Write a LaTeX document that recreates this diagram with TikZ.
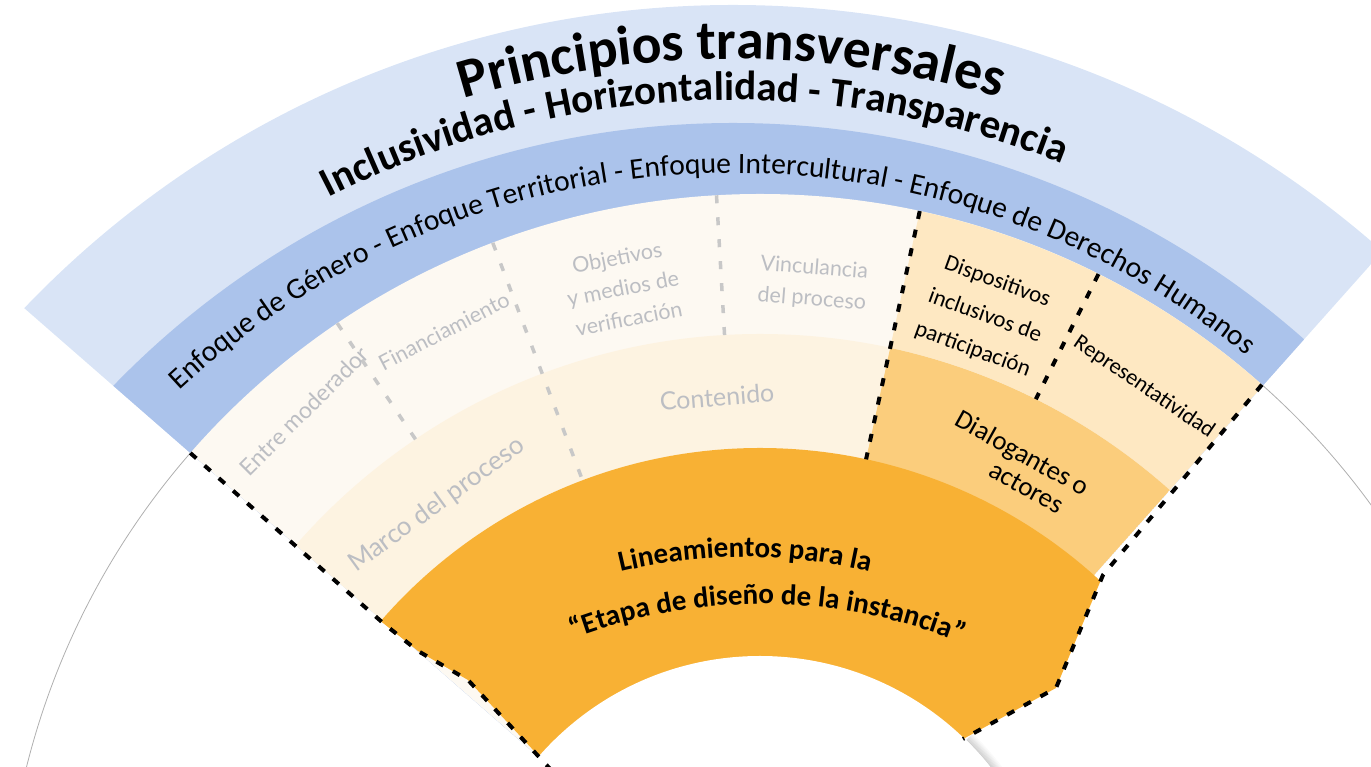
\documentclass[tikz,border=0pt]{standalone}
\usepackage{fontspec}
\setmainfont{Carlito}
\newfontfamily\latofont{Lato}
\usetikzlibrary{decorations.text}
\definecolor{lblue}{RGB}{217,228,246}
\definecolor{mblue}{RGB}{171,195,235}
\definecolor{creamA}{RGB}{253,249,242}
\definecolor{creamB}{RGB}{253,243,225}
\definecolor{peach}{RGB}{254,232,194}
\definecolor{morange}{RGB}{251,205,124}
\definecolor{dorange}{RGB}{248,177,52}
\definecolor{gtext}{RGB}{188,190,195}
\definecolor{gline}{RGB}{200,200,200}
\definecolor{thinline}{RGB}{175,175,175}
\tikzset{
  bdash/.style={line width=4pt, dash pattern=on 8pt off 11pt, black},
  gdash/.style={line width=3.5pt, dash pattern=on 8pt off 14pt, gline},
  gtxt/.style={font=\latofont\fontsize{21.5}{31}\selectfont, text=gtext, align=center, inner sep=0pt},
  btxt/.style={font=\fontsize{23}{36}\selectfont, text=black, align=center, inner sep=0pt},
  arctext/.style={decorate, decoration={text along path, text align=center, text={#1}}},
}
\begin{document}
\begin{tikzpicture}[x=1pt,y=1pt]
\useasboundingbox (0,0) rectangle (1371,767);
\clip (0,0) rectangle (1371,767);
\coordinate (c1) at (733,-218);
\coordinate (c2) at (760,-183);

% ---- fan bands
\begin{scope}
  \clip (c2) -- +(48.3:1400) -- +(93.6:1400) -- +(138.9:1400) -- cycle;
  \fill[lblue] (c1) circle[radius=980];
  \fill[mblue] (c1) circle[radius=862];
  \fill[creamA] (c2) circle[radius=756];
  \fill[peach] (c2) -- ++(48.3:756) arc[start angle=48.3, end angle=77.8, radius=756] -- cycle;
  \fill[creamB, even odd rule] (c2) circle[radius=616] (c2) circle[radius=502];
  \fill[morange] (c2) -- ++(48.3:616) arc[start angle=48.3, end angle=77.8, radius=616] -- cycle;
\end{scope}

% ---- shadow of inner circle
\begin{scope}
  \clip (c2) -- +(20:400) -- +(45.5:400) -- cycle;
  \foreach \i in {0,...,8} {
    \pgfmathtruncatemacro\sh{18-2*\i}
    \draw[black!\sh, line width=1.2pt] (c2) ++(20:{295+\i}) arc[start angle=20, end angle=46, radius={295+\i}];
  }
\end{scope}

% ---- orange band
\begin{scope}
  \clip (232,277) -- (383,144) -- (418,116) -- (468,87) -- (548,1) -- (760,-183)
        -- (965,29) -- (1056,79) -- (1103,192) -- (1234,332) -- (760,567) -- cycle;
  \fill[dorange] (c2) circle[radius=502];
\end{scope}
\fill[white] (c2) circle[radius=294];

% ---- thin outer circle outside the fan
\draw[thinline, line width=0.8pt] (c2) ++(138.9:756) arc[start angle=138.9, end angle=190, radius=756];
\draw[thinline, line width=0.8pt] (c2) ++(48.3:756) arc[start angle=48.3, end angle=0, radius=756];

% ---- dividers
\draw[gdash] ([shift={(124:756)}]c2) -- ([shift={(124:616)}]c2);
\draw[gdash] ([shift={(110.7:756)}]c2) -- ([shift={(110.7:502)}]c2);
\draw[gdash] ([shift={(93.3:756)}]c2) -- ([shift={(93.3:616)}]c2);
\draw[bdash] ([shift={(77.8:756)}]c2) -- ([shift={(77.8:502)}]c2);
\draw[bdash] ([shift={(63.4:756)}]c2) -- ([shift={(63.4:616)}]c2);
\draw[bdash] ([shift={(138.9:756)}]c2) -- (383,144) -- (418,116) -- (468,87) -- (552,-4);
\draw[bdash] ([shift={(48.4:756)}]c2) -- (1103,192) -- (1056,79) -- (963,28);

% ---- curved headings
\path[arctext={|\fontsize{55.5}{60}\selectfont\bfseries|Principios transversales}]
  (c1) ++(120.1:926) arc[start angle=120.1, end angle=60.1, radius=926];
\path[arctext={|\fontsize{41}{45}\selectfont\bfseries|Inclusividad - Horizontalidad - Transparencia}]
  (c1) ++(128.7:885) arc[start angle=128.7, end angle=56.7, radius=885];
\path[arctext={|\fontsize{29.6}{34}\selectfont|Enfoque de Género - Enfoque Territorial - Enfoque Intercultural - Enfoque de Derechos Humanos}]
  (c1) ++(143.9:812) arc[start angle=143.9, end angle=39.9, radius=812];
\path[arctext={|\fontsize{29}{33}\selectfont\bfseries|Lineamientos para la}]
  (745,-320) ++(125:530) arc[start angle=125, end angle=55, radius=530];
\path[arctext={|\fontsize{29}{33}\selectfont\bfseries|“Etapa de diseño de la instancia”}]
  (762,-367) ++(129.4:530) arc[start angle=129.4, end angle=49.4, radius=530];

% ---- grey labels
\node[gtxt, font=\latofont\fontsize{23}{31}\selectfont, rotate=45] (entre) at (304,356) {Entre moderador};
\node[gtxt, rotate=27.5] (finan) at (444,436) {Financiamiento};
\node[gtxt, rotate=11] (objet) at (623,479) {Objetivos\\y medios de\\verificación};
\node[gtxt, rotate=-4.5] (vincu) at (813,483) {Vinculancia\\del proceso};
\node[gtxt, font=\latofont\fontsize{26}{30}\selectfont, rotate=36] (marco) at (437,262) {Marco del proceso};
\node[gtxt, font=\latofont\fontsize{25}{30}\selectfont, rotate=4.5] (conte) at (717,370) {Contenido};

% ---- black labels
\node[btxt, rotate=-20] (dispo) at (985,451) {Dispositivos\\inclusivos de\\participación};
\node[btxt, font=\fontsize{22.5}{27}\selectfont, rotate=-34.3] (repre) at (1144,380) {Representatividad};
\node[btxt, font=\fontsize{27}{28}\selectfont, rotate=-29] (dialo) at (1016,302) {Dialogantes o\\\hspace*{40pt}actores};
\end{tikzpicture}
\end{document}
